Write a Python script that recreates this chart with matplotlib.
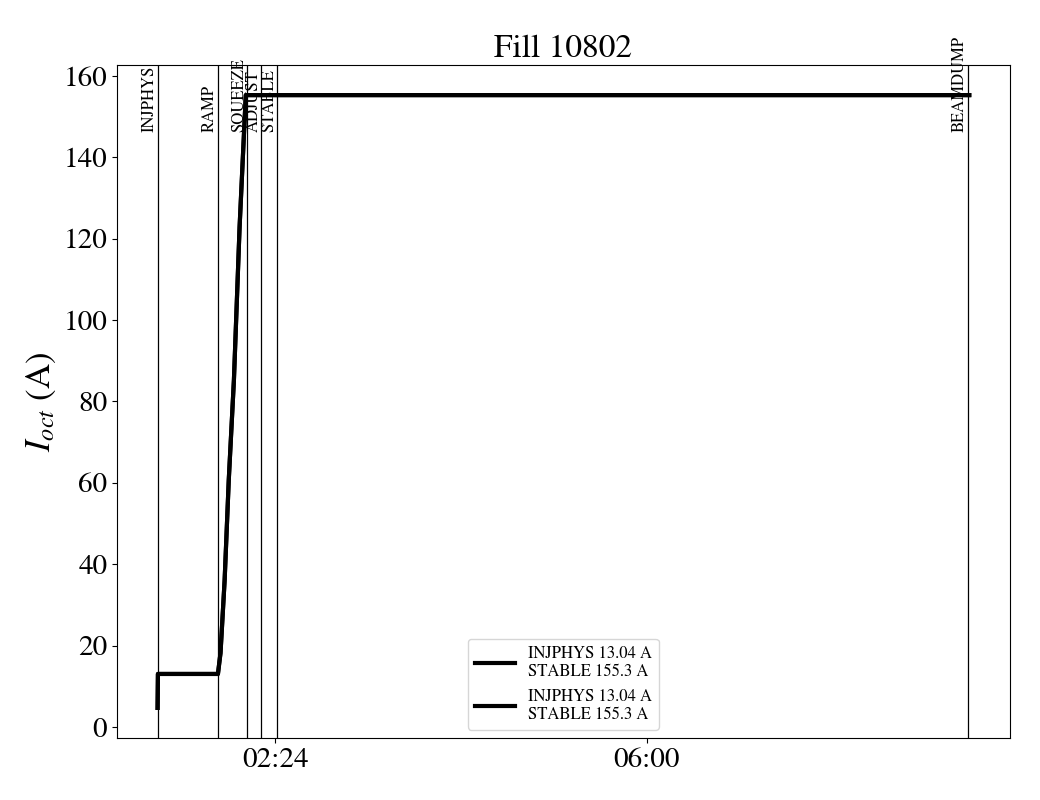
import matplotlib
matplotlib.use("Agg")
import matplotlib.pyplot as plt
import matplotlib.dates as mdates
import pandas as pd

plt.rcParams['font.family'] = ['STIXGeneral', 'DejaVu Serif']
plt.rcParams['mathtext.fontset'] = 'stix'

fill = 10802
day = pd.Timestamp("2025-06-28")

# octupole current, time in minutes after midnight
t_min = [75.5, 75.7, 110.6, 112.1, 114.5, 116.9, 119.9, 123.2, 126.8, 547.6]
i_oct = [4.7, 13.04, 13.04, 18.2, 36.1, 60.7, 85.3, 122.9, 155.3, 155.3]

# beam modes
modes = ["INJPHYS", "RAMP", "SQUEEZE", "ADJUST", "STABLE", "BEAMDUMP"]
mode_min = [75.5, 110.4, 127.6, 135.9, 144.9, 546.6]

leg_label = "INJPHYS 13.04 A\nSTABLE 155.3 A"
tick_min = [144, 360]

t = day + pd.to_timedelta(t_min, unit="min")
tm = day + pd.to_timedelta(mode_min, unit="min")
tt = day + pd.to_timedelta(tick_min, unit="min")

fig = plt.figure(figsize=(10.4, 8), dpi=100)
ax = fig.add_axes([0.1125, 0.0775, 0.8585, 0.84125])

ax.plot(t, i_oct, color='k', lw=3, label=leg_label)
ax.plot(t, i_oct, color='k', lw=3, label=leg_label)

for name, x in zip(modes, tm):
    ax.axvline(x, color='k', lw=0.9)
    ax.text(x, 0.9, name, transform=ax.get_xaxis_transform(), rotation=90,
            ha='right', va='bottom', fontsize=12)

ax.set_ylim(-2.7, 162.7)
ax.set_xticks(tt)
ax.xaxis.set_major_formatter(mdates.DateFormatter('%H:%M'))
ax.tick_params(labelsize=21)
ax.set_ylabel(r'$I_{oct}$ (A)', fontsize=25)
ax.set_title(f'Fill {fill}', fontsize=24)
ax.legend(loc='lower center', fontsize=12, handlelength=2.4)

fig.savefig("out.png", dpi=100)
